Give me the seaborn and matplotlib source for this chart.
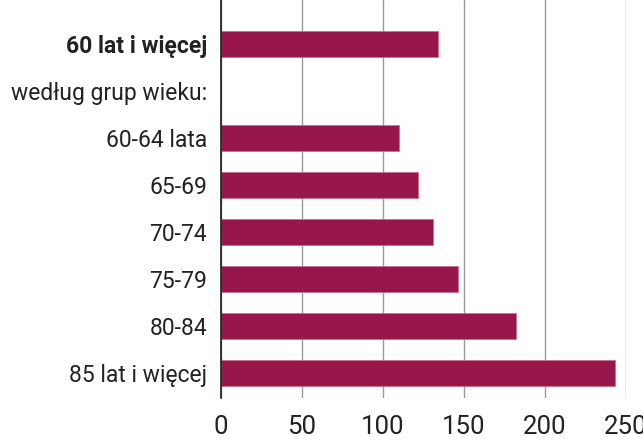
import matplotlib
matplotlib.use("Agg")
import matplotlib.pyplot as plt
import pandas as pd
import seaborn as sns

# data
labels = ['60 lat i więcej', 'według grup wieku:', '60-64 lata', '65-69',
          '70-74', '75-79', '80-84', '85 lat i więcej']
values = [134, 0, 110, 121.5, 131, 146.5, 182, 243]
xticks = [0, 50, 100, 150, 200, 250]

df = pd.DataFrame({'label': labels, 'value': values})

sns.set_style('white')
plt.rcParams['font.family'] = ['Roboto', 'DejaVu Sans']

fig = plt.figure(figsize=(6.43, 4.46), dpi=100)
ax = fig.add_axes([221 / 643, 48 / 446, (626 - 221) / 643, 398 / 446])

sns.barplot(data=df, y='label', x='value', order=labels, color='#98174A',
            saturation=1, width=0.56, edgecolor='#c9708f', linewidth=0.6,
            errorbar=None, ax=ax, zorder=3)

ax.set_xlim(0, 250)
ax.set_ylim(7.53, -0.94)
ax.set_xticks(xticks)
ax.set_xticklabels([str(t) for t in xticks])
ax.grid(axis='x', color='#9a9a9a', linewidth=1, zorder=0)
ax.set_axisbelow(True)
for s in ['top', 'right', 'bottom']:
    ax.spines[s].set_visible(False)
ax.spines['left'].set_color('#1a1a1a')
ax.spines['left'].set_linewidth(1.2)
ax.spines['left'].set_zorder(4)
ax.tick_params(axis='both', length=0, colors='#222222')
ax.tick_params(axis='x', pad=12, labelsize=18.5)
ax.tick_params(axis='y', pad=10, labelsize=16.5)
ax.set_xlabel('')
ax.set_ylabel('')
ax.get_yticklabels()[0].set_fontweight('bold')

fig.savefig('out.png', dpi=100)
